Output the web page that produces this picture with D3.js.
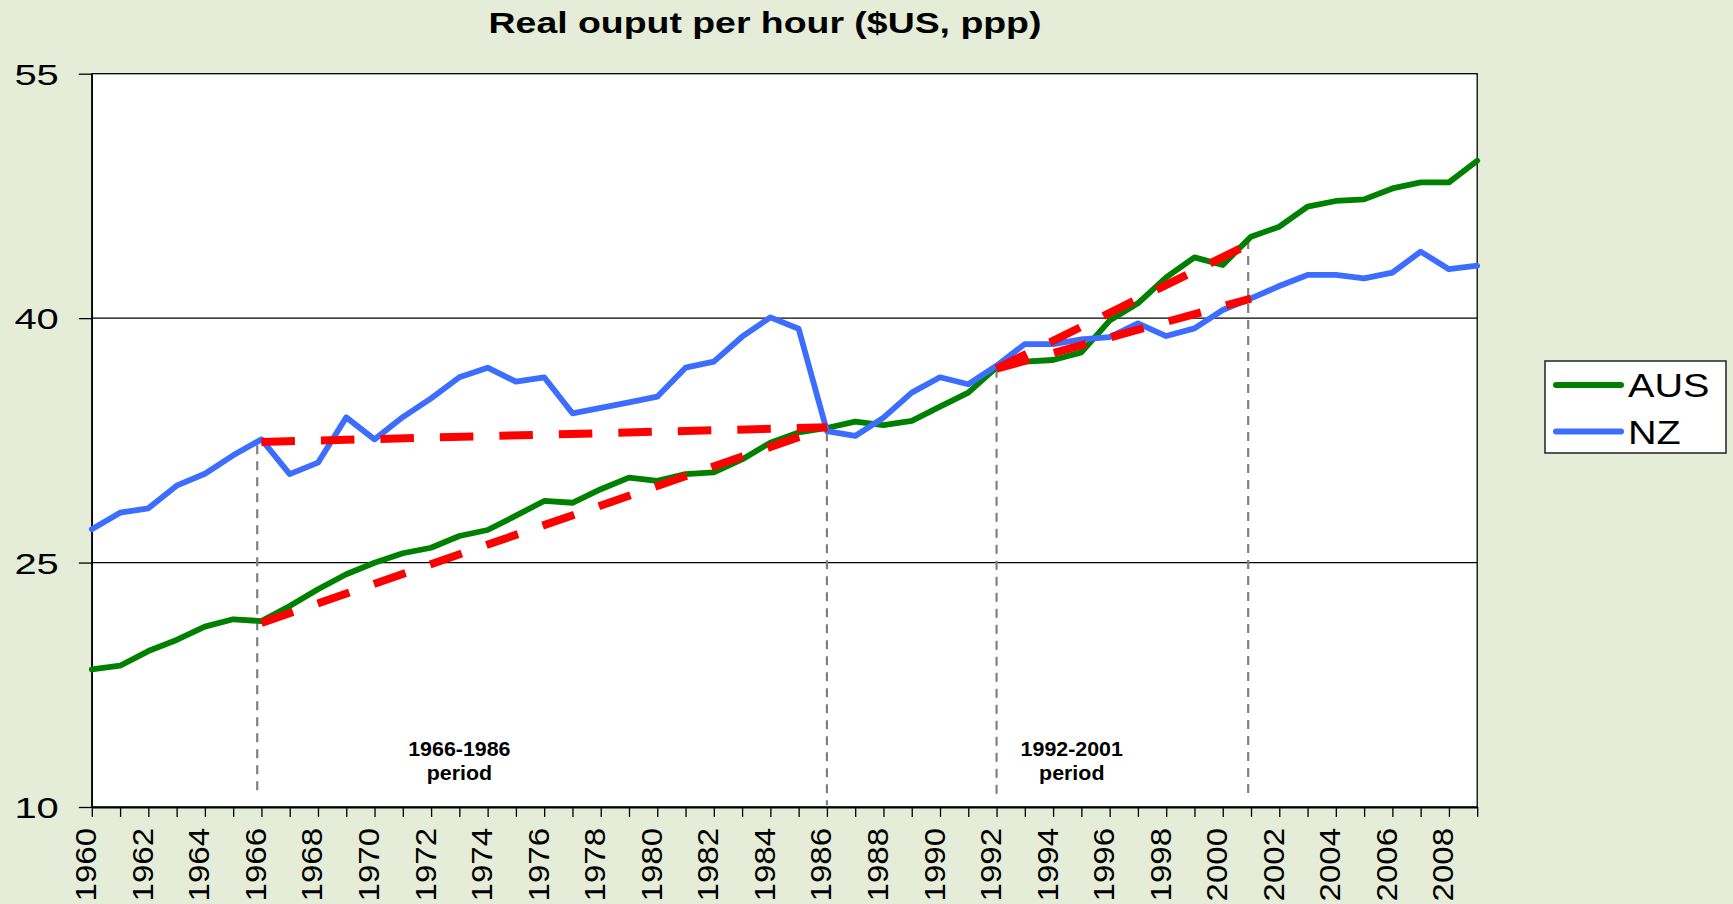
<!DOCTYPE html>
<html>
<head>
<meta charset="utf-8">
<script src="https://cdn.jsdelivr.net/npm/d3@7"></script>
<style>
body { margin: 0; background: #e5edd8; }
svg { display: block; font-family: "Liberation Sans", Arial, sans-serif; }
</style>
</head>
<body>
<svg width="1733" height="904"></svg>
<script>
var years = [1960, 1961, 1962, 1963, 1964, 1965, 1966, 1967, 1968, 1969,
    1970, 1971, 1972, 1973, 1974, 1975, 1976, 1977, 1978, 1979,
    1980, 1981, 1982, 1983, 1984, 1985, 1986, 1987, 1988, 1989,
    1990, 1991, 1992, 1993, 1994, 1995, 1996, 1997, 1998, 1999,
    2000, 2001, 2002, 2003, 2004, 2005, 2006, 2007, 2008, 2009];

var aus = [18.45, 18.67, 19.57, 20.25, 21.07, 21.52, 21.41, 22.33, 23.36, 24.28,
    24.99, 25.57, 25.91, 26.63, 27.0, 27.88, 28.78, 28.67, 29.5, 30.21,
    30.02, 30.43, 30.54, 31.33, 32.36, 32.99, 33.26, 33.65, 33.44, 33.69,
    34.57, 35.43, 36.98, 37.33, 37.43, 37.9, 39.85, 40.91, 42.5, 43.73,
    43.26, 45.0, 45.61, 46.84, 47.19, 47.29, 47.96, 48.33, 48.33, 49.66];

var nz = [27.04, 28.06, 28.33, 29.72, 30.45, 31.58, 32.56, 30.43, 31.13, 33.91,
    32.56, 33.93, 35.08, 36.37, 36.96, 36.1, 36.37, 34.16, 34.49, 34.83,
    35.18, 36.96, 37.33, 38.86, 40.05, 39.35, 33.07, 32.77, 33.89, 35.43,
    36.37, 35.94, 37.08, 38.41, 38.41, 38.7, 38.84, 39.68, 38.9, 39.37,
    40.5, 41.21, 41.97, 42.65, 42.65, 42.44, 42.79, 44.08, 43.0, 43.22];

var yTicks = [10, 25, 40, 55];

// hand drawn trend lines [year, value]
var trendNZ1 = [[1966, 32.4], [1986, 33.3]];
var trendAUS1 = [[1966, 21.3], [1986, 33.3]];
var trendAUS2 = [[1992, 36.9], [2001, 44.6]];
var trendNZ2 = [[1992, 36.9], [2001, 41.2]];

// vertical period markers (drawn by hand, slightly off the year)
var markerYears = [1965.85, 1986, 1992, 2000.9];
var markerTop = [32.2, 33.0, 36.9, 44.8];
var markerBottom = [10.85, 10.1, 10.4, 10.6];

var periodNames = ["1966-1986", "1992-2001"];
var periodCentre = [1973, 1994.66];

var seriesNames = ["AUS", "NZ"];
var seriesColors = ["#008000", "#3d6dff"];

var svg = d3.select("svg"),
    width = +svg.attr("width"),
    height = +svg.attr("height");

var x = d3.scaleLinear().domain([years[0], years[years.length - 1]]).range([91.8, 1477.2]);
var y = d3.scaleLinear().domain([10, 55]).range([807, 73.7]);

svg.append("rect").attr("width", width).attr("height", height).attr("fill", "#e5edd8");

svg.append("rect")
    .attr("x", x.range()[0]).attr("y", y.range()[1])
    .attr("width", x.range()[1] - x.range()[0])
    .attr("height", y.range()[0] - y.range()[1])
    .attr("fill", "#fff");

// gridlines
svg.append("g").selectAll("line")
    .data(yTicks.slice(1, -1))
    .enter().append("line")
    .attr("x1", x.range()[0]).attr("x2", x.range()[1])
    .attr("y1", function(d) { return y(d); })
    .attr("y2", function(d) { return y(d); })
    .attr("stroke", "#000").attr("stroke-width", 1.3);

// plot border
svg.append("rect")
    .attr("x", x.range()[0]).attr("y", y.range()[1])
    .attr("width", x.range()[1] - x.range()[0])
    .attr("height", y.range()[0] - y.range()[1])
    .attr("fill", "none").attr("stroke", "#000").attr("stroke-width", 1.3);

// y axis
var yAxis = svg.append("g")
    .attr("transform", "translate(" + x.range()[0] + ",0)")
    .call(d3.axisLeft(y).tickValues(yTicks).tickSize(13).tickSizeOuter(0));
yAxis.attr("font-size", 30).attr("font-family", null);
yAxis.select(".domain").attr("stroke", "#000").attr("stroke-width", 1.3);
yAxis.selectAll(".tick line").attr("stroke", "#000").attr("stroke-width", 1.3);
yAxis.selectAll(".tick text")
    .attr("x", 0).attr("dy", "0.35em").attr("fill", "#000")
    .attr("transform", "translate(-33,0) scale(1.33,1)");

// x axis
var xAxis = svg.append("g")
    .attr("transform", "translate(0," + y.range()[0] + ")")
    .call(d3.axisBottom(x).tickValues(years).tickSize(10).tickSizeOuter(0)
        .tickFormat(function(d) { return d % 2 === 0 ? d : ""; }));
xAxis.attr("font-size", 30).attr("font-family", null);
xAxis.select(".domain").attr("stroke", "#000").attr("stroke-width", 2);
xAxis.selectAll(".tick line").attr("stroke", "#000").attr("stroke-width", 1.3);
xAxis.selectAll(".tick text")
    .attr("y", 0).attr("dy", 0).attr("fill", "#000")
    .attr("text-anchor", "end")
    .attr("transform", "translate(4,21) rotate(-90) scale(1.1,1)");

// vertical dashed markers
svg.append("g").selectAll("line")
    .data(markerYears)
    .enter().append("line")
    .attr("x1", function(d) { return x(d); })
    .attr("x2", function(d) { return x(d); })
    .attr("y1", function(d, i) { return y(markerTop[i]); })
    .attr("y2", function(d, i) { return y(markerBottom[i]); })
    .attr("stroke", "#808080").attr("stroke-width", 2.2)
    .attr("stroke-dasharray", "9,7");

// series
var line = d3.line()
    .x(function(d, i) { return x(years[i]); })
    .y(function(d) { return y(d); });

[aus, nz].forEach(function(s, i) {
    svg.append("path")
        .datum(s)
        .attr("d", line)
        .attr("fill", "none")
        .attr("stroke", seriesColors[i])
        .attr("stroke-width", 5.8)
        .attr("stroke-linejoin", "round")
        .attr("stroke-linecap", "round");
});

// trend lines
var trendLine = d3.line()
    .x(function(d) { return x(d[0]); })
    .y(function(d) { return y(d[1]); });

[trendNZ1, trendAUS1, trendAUS2, trendNZ2].forEach(function(t) {
    svg.append("path")
        .datum(t)
        .attr("d", trendLine)
        .attr("fill", "none")
        .attr("stroke", "#ff0000")
        .attr("stroke-width", 8)
        .attr("stroke-dasharray", "33.5,26");
});

// period labels
periodNames.forEach(function(p, i) {
    var t = svg.append("g")
        .attr("transform", "translate(" + x(periodCentre[i]) + "," + y(13.13) + ")")
        .append("text")
        .attr("transform", "scale(1.07,1)")
        .attr("text-anchor", "middle")
        .attr("font-size", 20)
        .attr("font-weight", "bold");
    t.append("tspan").attr("x", 0).attr("y", 0).text(p);
    t.append("tspan").attr("x", 0).attr("y", 24).text("period");
});

// title
svg.append("g")
    .attr("transform", "translate(765,33.3)")
    .append("text")
    .attr("transform", "scale(1.29,1)")
    .attr("text-anchor", "middle")
    .attr("font-size", 29)
    .attr("font-weight", "bold")
    .text("Real ouput per hour ($US, ppp)");

// legend
var legend = svg.append("g").attr("transform", "translate(1545,361)");
legend.append("rect")
    .attr("width", 181).attr("height", 92)
    .attr("fill", "#fff").attr("stroke", "#222").attr("stroke-width", 1.5);

var item = legend.selectAll(".item")
    .data(seriesNames)
    .enter().append("g")
    .attr("class", "item")
    .attr("transform", function(d, i) { return "translate(0," + (24 + i * 46.5) + ")"; });
item.append("line")
    .attr("x1", 11).attr("x2", 76)
    .attr("stroke", function(d, i) { return seriesColors[i]; })
    .attr("stroke-width", 6)
    .attr("stroke-linecap", "round");
item.append("g")
    .attr("transform", "translate(83,12)")
    .append("text")
    .attr("transform", "scale(1.2,1)")
    .attr("font-size", 33)
    .text(function(d) { return d; });
</script>
</body>
</html>
